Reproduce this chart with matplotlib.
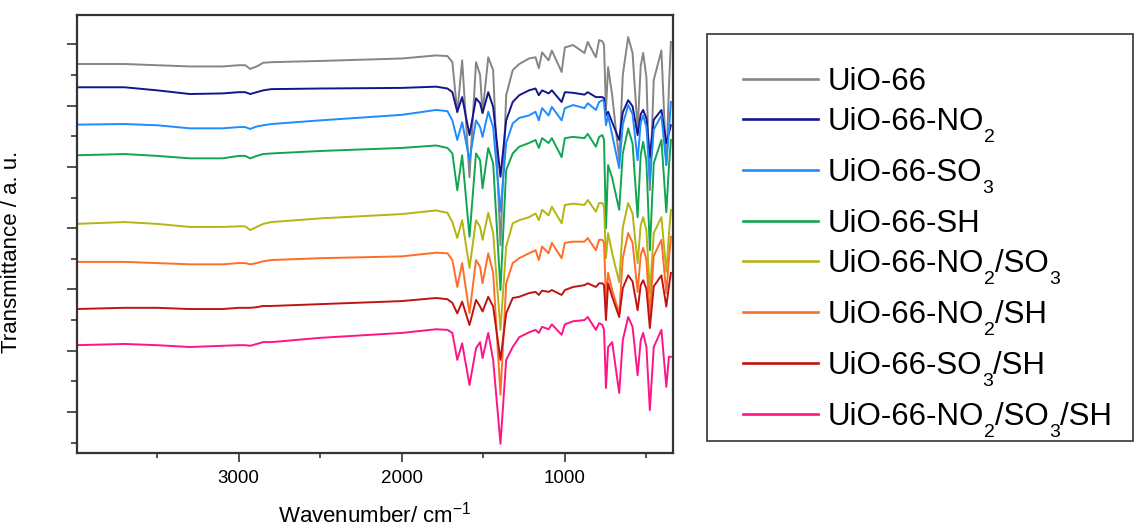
import matplotlib
matplotlib.use('Agg')
import matplotlib.pyplot as plt
import matplotlib.ticker as ticker
from matplotlib.patches import Rectangle
from matplotlib.lines import Line2D

plt.rcParams['font.family'] = ['Liberation Sans', 'DejaVu Sans']
plt.rcParams['mathtext.fontset'] = 'custom'
plt.rcParams['mathtext.rm'] = 'Liberation Sans'
plt.rcParams['mathtext.it'] = 'Liberation Sans:italic'

W, H = 1137, 528

# Опорные точки спектров (волновое число, см^-1)
wavenumber = [4000, 3700, 3500, 3300, 3100, 3000, 2960, 2930, 2890, 2850, 2800, 2500, 2000, 1790,
              1720, 1690, 1660, 1630, 1585, 1545, 1520, 1505, 1470, 1440,
              1395, 1360, 1320, 1280, 1220, 1180, 1160, 1140, 1100, 1080,
              1020, 1000, 950, 880, 860, 810, 790, 770, 760, 748,
              735, 710, 667, 645, 612, 585, 554, 535, 520, 500,
              479, 455, 408, 378, 362, 350]

# Пропускание (со сдвигом по вертикали), отн. ед.
t_uio66 = [6.68, 6.68, 6.66, 6.64, 6.64, 6.66, 6.66, 6.60, 6.64, 6.70, 6.71, 6.73, 6.77, 6.82,
           6.81, 6.71, 5.89, 6.74, 4.83, 6.71, 6.50, 5.88, 6.79, 6.58,
           3.72, 6.17, 6.58, 6.68, 6.77, 6.79, 6.61, 6.87, 6.74, 6.90,
           6.55, 6.95, 6.99, 6.86, 7.04, 6.79, 7.07, 7.05, 6.99, 5.93,
           6.63, 6.17, 5.11, 6.50, 7.12, 6.86, 5.60, 6.65, 6.86, 6.46,
           4.62, 6.42, 6.90, 5.03, 6.30, 7.04]
t_no2 = [6.30, 6.30, 6.25, 6.19, 6.20, 6.22, 6.22, 6.19, 6.22, 6.25, 6.27, 6.28, 6.29, 6.31,
         6.28, 6.22, 5.90, 6.14, 5.52, 6.12, 6.04, 5.88, 6.22, 5.98,
         4.84, 5.76, 6.06, 6.17, 6.25, 6.28, 6.17, 6.25, 6.20, 6.25,
         6.06, 6.22, 6.21, 6.18, 6.22, 6.14, 6.14, 6.14, 6.12, 5.84,
         5.90, 5.73, 5.44, 5.89, 6.09, 5.99, 5.52, 5.86, 5.93, 5.79,
         5.16, 5.77, 5.93, 5.39, 5.55, 5.68]
t_so3 = [5.69, 5.70, 5.68, 5.63, 5.63, 5.65, 5.65, 5.62, 5.66, 5.68, 5.70, 5.76, 5.85, 5.93,
         5.91, 5.76, 5.44, 5.73, 5.11, 5.76, 5.65, 5.49, 5.90, 5.65,
         4.27, 5.39, 5.71, 5.80, 5.84, 5.90, 5.76, 5.96, 5.84, 5.98,
         5.76, 5.96, 6.01, 5.96, 6.04, 5.93, 6.06, 6.09, 6.06, 5.68,
         5.84, 5.52, 4.98, 5.69, 6.01, 5.86, 5.11, 5.72, 5.84, 5.65,
         4.76, 5.61, 5.84, 5.03, 5.60, 6.06]
t_sh = [5.19, 5.21, 5.18, 5.14, 5.14, 5.18, 5.18, 5.14, 5.18, 5.21, 5.22, 5.26, 5.31, 5.35,
        5.31, 5.22, 4.62, 5.19, 3.86, 5.22, 5.11, 4.65, 5.31, 5.06,
        2.99, 4.95, 5.22, 5.33, 5.39, 5.44, 5.31, 5.47, 5.39, 5.47,
        5.16, 5.47, 5.49, 5.47, 5.54, 5.33, 5.49, 5.52, 5.44, 4.00,
        5.03, 4.82, 4.30, 5.22, 5.63, 5.38, 4.18, 5.20, 5.41, 5.09,
        3.64, 5.06, 5.44, 4.26, 5.00, 5.44]
t_no2_so3 = [4.07, 4.10, 4.07, 4.02, 4.02, 4.03, 4.03, 3.97, 4.02, 4.07, 4.10, 4.16, 4.23, 4.29,
             4.25, 4.10, 3.84, 4.13, 3.35, 4.13, 4.02, 3.81, 4.25, 3.92,
             2.34, 3.70, 4.08, 4.13, 4.18, 4.24, 4.13, 4.30, 4.21, 4.35,
             4.08, 4.38, 4.40, 4.38, 4.46, 4.27, 4.41, 4.41, 4.35, 3.51,
             3.92, 3.59, 3.12, 4.01, 4.41, 4.24, 3.43, 4.05, 4.18, 3.96,
             2.94, 3.92, 4.18, 3.29, 3.90, 4.30]
t_no2_sh = [3.45, 3.45, 3.43, 3.41, 3.41, 3.43, 3.43, 3.41, 3.43, 3.46, 3.48, 3.51, 3.54, 3.60,
            3.59, 3.48, 3.04, 3.43, 2.61, 3.48, 3.37, 3.10, 3.59, 3.27,
            1.28, 3.10, 3.43, 3.51, 3.59, 3.64, 3.48, 3.70, 3.59, 3.76,
            3.51, 3.76, 3.78, 3.78, 3.84, 3.64, 3.81, 3.81, 3.76, 2.83,
            3.27, 2.99, 2.61, 3.51, 3.92, 3.76, 2.96, 3.56, 3.68, 3.48,
            2.58, 3.55, 3.81, 2.94, 3.50, 3.86]
t_so3_sh = [2.68, 2.70, 2.70, 2.68, 2.68, 2.70, 2.70, 2.70, 2.71, 2.73, 2.73, 2.76, 2.81, 2.86,
            2.84, 2.78, 2.61, 2.80, 2.42, 2.83, 2.72, 2.64, 2.88, 2.72,
            1.85, 2.61, 2.86, 2.88, 2.94, 2.96, 2.91, 2.98, 2.96, 2.99,
            2.91, 2.99, 3.04, 3.07, 3.10, 3.04, 3.10, 3.10, 3.07, 2.50,
            3.10, 2.88, 2.55, 3.02, 3.23, 3.13, 2.66, 3.07, 3.15, 3.01,
            2.37, 3.05, 3.23, 2.72, 3.05, 3.27]
t_no2_so3_sh = [2.09, 2.11, 2.09, 2.06, 2.08, 2.09, 2.09, 2.08, 2.11, 2.14, 2.14, 2.21, 2.29, 2.35,
                2.34, 2.29, 1.85, 2.12, 1.44, 2.04, 2.14, 1.88, 2.29, 1.85,
                0.48, 1.85, 2.06, 2.22, 2.30, 2.34, 2.29, 2.39, 2.35, 2.43,
                2.26, 2.43, 2.48, 2.50, 2.55, 2.34, 2.45, 2.42, 2.34, 1.39,
                2.06, 2.14, 1.31, 2.17, 2.55, 2.39, 1.60, 2.17, 2.29, 2.06,
                1.03, 2.06, 2.34, 1.41, 1.90, 1.90]

# Подписи: обычный текст и нижние индексы чередуются
label_parts = [['UiO-66'],
               ['UiO-66-NO', '2'],
               ['UiO-66-SO', '3'],
               ['UiO-66-SH'],
               ['UiO-66-NO', '2', '/SO', '3'],
               ['UiO-66-NO', '2', '/SH'],
               ['UiO-66-SO', '3', '/SH'],
               ['UiO-66-NO', '2', '/SO', '3', '/SH']]
series = [t_uio66, t_no2, t_so3, t_sh, t_no2_so3, t_no2_sh, t_so3_sh, t_no2_so3_sh]
COLORS = ['#858585', '#14148c', '#1e8cff', '#12a550', '#b4b414', '#ff6e28', '#c01414', '#ff1486']

fig = plt.figure(figsize=(W / 100, H / 100), dpi=100)
ax = fig.add_axes([77 / W, 1 - 453 / H, 596 / W, 438 / H])

for t, c, parts in zip(series, COLORS, label_parts):
    ax.plot(wavenumber, t, color=c, lw=1.4, label=''.join(parts))

# Оси
ax.set_xlim(3992, 337)
ax.set_ylim(0.33, 7.48)
ax.xaxis.set_major_locator(ticker.MultipleLocator(1000))
ax.xaxis.set_minor_locator(ticker.MultipleLocator(500))
ax.yaxis.set_major_locator(ticker.MultipleLocator(1))
ax.yaxis.set_minor_locator(ticker.MultipleLocator(0.5))
ax.yaxis.set_major_formatter(ticker.NullFormatter())
ax.tick_params(axis='both', which='major', direction='out', length=7, width=1.2,
               color='#333333', labelsize=13.5, pad=6)
ax.tick_params(axis='both', which='minor', direction='out', length=4, width=1.2, color='#333333')
ax.tick_params(axis='x', which='major', length=6.5)
ax.tick_params(axis='x', which='minor', length=3.5)
for sp in ax.spines.values():
    sp.set_linewidth(1.6)
    sp.set_color('#333333')

ax.set_xlabel('Wavenumber/ cm$^\\mathregular{-1}$', fontsize=16, labelpad=10)
ax.set_ylabel('Transmittance / a. u.', fontsize=16)
ax.yaxis.set_label_coords(-0.092, 0.459)

# Легенда: рамка, линии и подписи с опущенными индексами
fig.patches.append(Rectangle((706.7 / W, 1 - 441 / H), (1133 - 706.7) / W, (441 - 34) / H,
                             transform=fig.transFigure, fill=False, edgecolor='#333333', lw=1.2))
LEG_FS, SUB_FS = 22.5, 14
row_y = 79
for c, parts in zip(COLORS, label_parts):
    fig.add_artist(Line2D([742.7 / W, 818 / W], [1 - row_y / H] * 2, color=c, lw=1.9,
                          transform=fig.transFigure))
    first = fig.text(828 / W, 1 - (row_y + 11) / H, parts[0], fontsize=LEG_FS, va='baseline')
    prev = first
    for i, part in enumerate(parts[1:], 1):
        is_sub = i % 2 == 1
        prev = ax.annotate(part, xy=(1, 0), xycoords=(prev, first),
                           xytext=(0, -6.6 if is_sub else 0), textcoords='offset points',
                           fontsize=SUB_FS if is_sub else LEG_FS, va='bottom', ha='left')
    row_y += 51 if len(parts) > 1 else 40

fig.savefig('out.png', dpi=100)
